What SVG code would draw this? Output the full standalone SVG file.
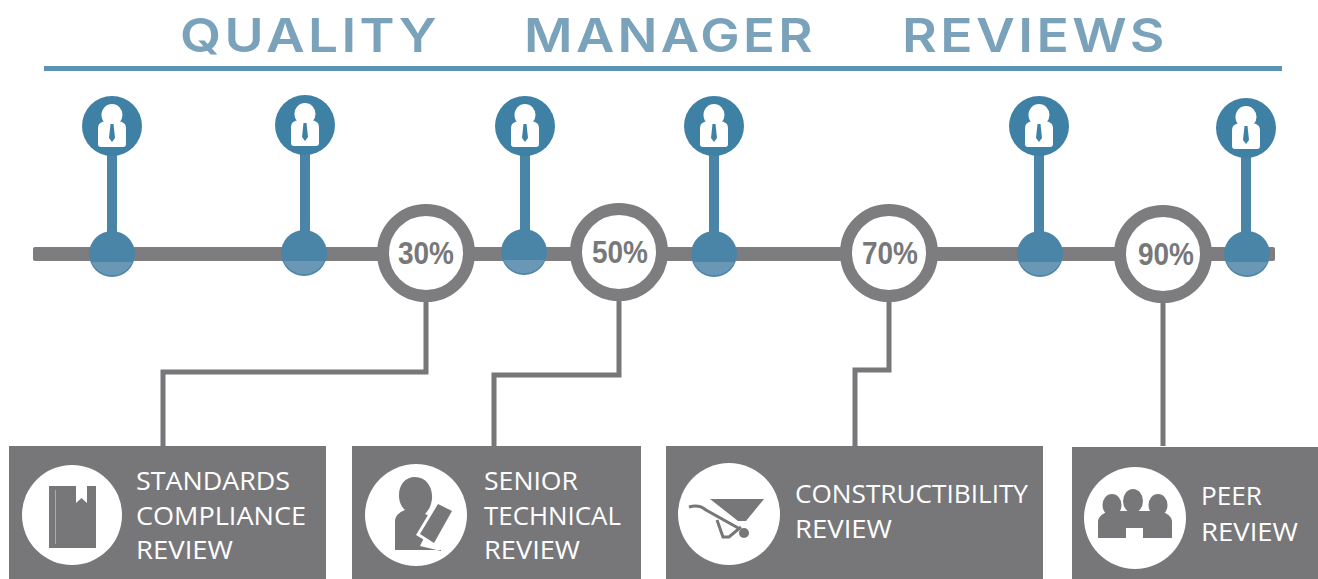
<svg xmlns="http://www.w3.org/2000/svg" xmlns:xlink="http://www.w3.org/1999/xlink" width="1318" height="579" viewBox="0 0 1318 579">
<style>
.title{font:600 47px "Inter","Liberation Sans",sans-serif;fill:#7ba2bb;letter-spacing:3px}
.pct{font:700 31px "Liberation Sans",sans-serif;fill:#77787a}
.lbl{font:400 25px "Open Sans","Liberation Sans",sans-serif;fill:#fff}
.box{fill:#77777a}
.ring{fill:#fff;stroke:#7d7d80;stroke-width:12}
.dot{fill:#4a85a8}
.dotlow{fill:#6a97b5}
.stem{stroke:#4a85a8;stroke-width:10;fill:none}
.wire{stroke:#77777a;stroke-width:5;fill:none}
.ic{fill:#77777a}
</style>
<defs>
<g id="person">
<circle r="30" fill="#3f80a5"/>
<ellipse cy="-11" rx="10.500" ry="11" fill="#fff"/>
<path d="M-6-5H6C11-4 14-3 14 3V18Q14 21 11 21H-11Q-14 21-14 18V3C-14-3-11-4-6-5Z" fill="#fff"/>
<path d="M-1.500-2H1.500L3 12 0 16-3 12Z" fill="#3f80a5"/>
</g>
<g id="node">
<circle class="dot" r="23"/>
<path class="dotlow" d="M-20.500 8A22.500 22.500 0 0 0 20.500 8Z"/>
</g>
</defs>
<text class="title" x="180" y="52" textLength="260" lengthAdjust="spacingAndGlyphs">QUALITY</text>
<text class="title" x="524" y="52" textLength="292" lengthAdjust="spacingAndGlyphs">MANAGER</text>
<text class="title" x="902" y="52" textLength="266" lengthAdjust="spacingAndGlyphs">REVIEWS</text>
<rect x="44" y="66" width="1238" height="5" fill="#5a93b4"/>
<g id="connectors">
<rect x="33" y="247" width="1242" height="14" rx="2" fill="#7d7d80"/>
<path class="stem" d="M112 130V235M305 130V235M525 130V235M714 130V235M1039 130V235M1246 130V235"/>
<path class="wire" d="M426 298V372H163V446"/>
<path class="wire" d="M619 298V375H494V446"/>
<path class="wire" d="M889 298V370H855V446"/>
<path class="wire" d="M1163 298V446"/>
</g>
<g id="m1"><use xlink:href="#person" href="#person" x="112" y="126"/><use xlink:href="#node" href="#node" x="112" y="254"/></g>
<g id="m2"><use xlink:href="#person" href="#person" x="305" y="125"/><use xlink:href="#node" href="#node" x="304" y="253"/></g>
<g id="m3"><use xlink:href="#person" href="#person" x="525" y="126"/><use xlink:href="#node" href="#node" x="524" y="252"/></g>
<g id="m4"><use xlink:href="#person" href="#person" x="714" y="126"/><use xlink:href="#node" href="#node" x="714" y="254"/></g>
<g id="m5"><use xlink:href="#person" href="#person" x="1039" y="126"/><use xlink:href="#node" href="#node" x="1040" y="254"/></g>
<g id="m6"><use xlink:href="#person" href="#person" x="1246" y="128"/><use xlink:href="#node" href="#node" x="1247" y="254"/></g>
<g id="p30"><circle class="ring" cx="426" cy="253" r="43"/><text class="pct" x="398" y="264" textLength="56" lengthAdjust="spacingAndGlyphs">30%</text></g>
<g id="p50"><circle class="ring" cx="619" cy="252" r="43"/><text class="pct" x="592" y="263" textLength="56" lengthAdjust="spacingAndGlyphs">50%</text></g>
<g id="p70"><circle class="ring" cx="889" cy="253" r="43"/><text class="pct" x="862" y="264" textLength="56" lengthAdjust="spacingAndGlyphs">70%</text></g>
<g id="p90"><circle class="ring" cx="1163" cy="254" r="43"/><text class="pct" x="1138" y="265" textLength="56" lengthAdjust="spacingAndGlyphs">90%</text></g>
<g id="standards">
<rect class="box" x="9" y="446" width="317" height="133"/>
<circle cx="72" cy="515" r="50" fill="#fff"/>
<rect class="ic" x="49" y="486" width="47" height="62"/>
<path d="M76 486H87V503L81.500 498 76 503Z" fill="#fff"/>
<rect x="55" y="490" width="1" height="54" fill="#aaa"/>
<text class="lbl" x="136" y="490" textLength="154" lengthAdjust="spacingAndGlyphs">STANDARDS</text>
<text class="lbl" x="136" y="525" textLength="170" lengthAdjust="spacingAndGlyphs">COMPLIANCE</text>
<text class="lbl" x="136" y="559" textLength="97" lengthAdjust="spacingAndGlyphs">REVIEW</text>
</g>
<g id="senior">
<rect class="box" x="352" y="446" width="289" height="133"/>
<circle cx="416" cy="515" r="51" fill="#fff"/>
<path class="ic" d="M415 477C426 477 433 487 432 499 431 506 429 510 425 514L434 518 420 546 441 551V550H395V520C396 514 402 511 405 510 400 505 399 500 399 495 399 485 405 477 415 477Z"/>
<path d="M437 500 456 510 436 547 416 535Z" fill="#fff"/>
<path class="ic" d="M438 504 452 511 434 543 420 534Z"/>
<text class="lbl" x="484" y="490" textLength="94" lengthAdjust="spacingAndGlyphs">SENIOR</text>
<text class="lbl" x="484" y="525" textLength="137" lengthAdjust="spacingAndGlyphs">TECHNICAL</text>
<text class="lbl" x="484" y="559" textLength="96" lengthAdjust="spacingAndGlyphs">REVIEW</text>
</g>
<g id="constructibility">
<rect class="box" x="666" y="446" width="377" height="133"/>
<circle cx="729" cy="514" r="51" fill="#fff"/>
<path class="ic" d="M710 499H764L746 521 738 521Z"/>
<path d="M689 507Q699 504 706 510L740 529M717 520 723 537H729L741 527" fill="none" stroke="#77777a" stroke-width="3"/>
<circle class="ic" cx="744" cy="533" r="5"/>
<text class="lbl" x="795" y="503" textLength="233" lengthAdjust="spacingAndGlyphs">CONSTRUCTIBILITY</text>
<text class="lbl" x="795" y="538" textLength="97" lengthAdjust="spacingAndGlyphs">REVIEW</text>
</g>
<g id="peer">
<rect class="box" x="1072" y="447" width="246" height="132"/>
<circle cx="1135" cy="518" r="51" fill="#fff"/>
<ellipse class="ic" cx="1112" cy="505" rx="9.500" ry="11"/>
<ellipse class="ic" cx="1133" cy="501" rx="10" ry="12"/>
<ellipse class="ic" cx="1158" cy="505" rx="9.500" ry="11"/>
<path class="ic" d="M1098 521Q1099 514 1110 511H1160Q1171 514 1172 521V538H1143V528H1126V538H1098Z"/>
<text class="lbl" x="1201" y="505" textLength="61" lengthAdjust="spacingAndGlyphs">PEER</text>
<text class="lbl" x="1201" y="541" textLength="97" lengthAdjust="spacingAndGlyphs">REVIEW</text>
</g>
</svg>
